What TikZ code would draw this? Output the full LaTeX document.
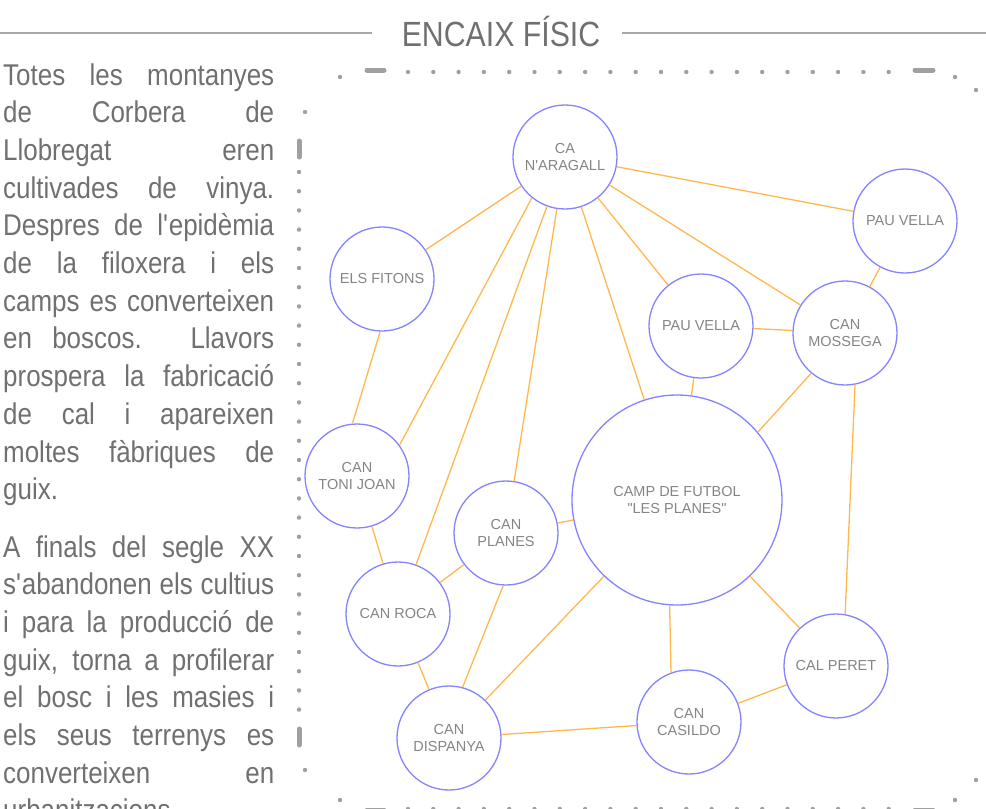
\documentclass[tikz,border=0pt]{standalone}
\usepackage{fontspec}
\setmainfont{Liberation Sans}[FakeStretch=0.865]
\newfontfamily\placefont{Liberation Sans}
\definecolor{bodyc}{HTML}{707070}
\definecolor{rulec}{HTML}{A8A8A8}
\definecolor{dotc}{HTML}{A0A0A0}
\definecolor{placec}{HTML}{8484FF}
\definecolor{linkc}{HTML}{FFB84D}
\definecolor{labelc}{HTML}{858585}
\newcommand\fullline[1]{\hbox to 271pt{\spaceskip=\fontdimen2\font plus 1fil\relax #1}}
\tikzset{
  place/.style={circle, draw=placec, line width=1.3, fill=white, minimum size=104,
    inner sep=0, align=center, text=labelc,
    font=\placefont\fontsize{14.5}{17.3}\selectfont},
  link/.style={draw=linkc, line width=1.3},
  bodyline/.style={anchor=base west, inner sep=0, text=bodyc,
    font=\fontsize{30}{37.7}\selectfont},
  dotmark/.style={fill=dotc},
  dashmark/.style={draw=dotc, line width=5, line cap=round}
}
\begin{document}
\begin{tikzpicture}[x=1pt, y=-1pt]
    \useasboundingbox (0,0) rectangle (986,809);
    % title
    \node[text=bodyc, font=\fontsize{35}{40}\selectfont, inner sep=0] (title) at (501,31) {ENCAIX FÍSIC};
    \draw[rulec, line width=2.2] (0,33) -- (372,33);
    \draw[rulec, line width=2.2] (622,33) -- (986,33);
    % left text
    \node[bodyline] (l1) at (3,85) {\fullline{Totes les montanyes}};
    \node[bodyline] (l2) at (3,122.7) {\fullline{de Corbera de}};
    \node[bodyline] (l3) at (3,160.4) {\fullline{Llobregat eren}};
    \node[bodyline] (l4) at (3,198.1) {\fullline{cultivades de vinya.}};
    \node[bodyline] (l5) at (3,235.8) {\fullline{Despres de l\textquotesingle epidèmia}};
    \node[bodyline] (l6) at (3,273.5) {\fullline{de la filoxera i els}};
    \node[bodyline] (l7) at (3,311.2) {\fullline{camps es converteixen}};
    \node[bodyline] (l8) at (3,348.9) {\fullline{en boscos. Llavors}};
    \node[bodyline] (l9) at (3,386.6) {\fullline{prospera la fabricació}};
    \node[bodyline] (l10) at (3,424.3) {\fullline{de cal i apareixen}};
    \node[bodyline] (l11) at (3,462) {\fullline{moltes fàbriques de}};
    \node[bodyline] (l12) at (3,499.7) {guix.};
    \node[bodyline] (l13) at (3,557) {\fullline{A finals del segle XX}};
    \node[bodyline] (l14) at (3,594.7) {\fullline{s\textquotesingle abandonen els cultius}};
    \node[bodyline] (l15) at (3,632.4) {\fullline{i para la producció de}};
    \node[bodyline] (l16) at (3,670.1) {\fullline{guix, torna a profilerar}};
    \node[bodyline] (l17) at (3,707.8) {\fullline{el bosc i les masies i}};
    \node[bodyline] (l18) at (3,745.5) {\fullline{els seus terrenys es}};
    \node[bodyline] (l19) at (3,783.2) {\fullline{converteixen en}};
    \node[bodyline] (l20) at (3,820.9) {urbanitzacions};
    % dotted frame
    \foreach \i in {0,...,19} {
        \fill[dotmark] ({408+25.3*\i},72) circle(2.2);
        \fill[dotmark] ({408+25.3*\i},809) circle(2.2);
    }
    \foreach \i in {0,...,28}
        \fill[dotmark] (299,{172+19.2*\i}) circle(2.2);
    \foreach \p in {(305,112),(340,77),(305,770),(340,800),(955,77),(976,90),(976,780),(955,800)}
        \fill[dotmark] \p circle(2.2);
    \draw[dashmark] (367,70) -- (384,70);
    \draw[dashmark] (915,70) -- (933,70);
    \draw[dashmark] (367,810) -- (384,810);
    \draw[dashmark] (915,810) -- (933,810);
    \draw[dashmark] (299,141) -- (299,157);
    \draw[dashmark] (299,729) -- (299,745);
    % places
    \node[place] (naragall) at (565,157) {CA\\N'ARAGALL};
    \node[place] (pauvellaA) at (905,221) {PAU VELLA};
    \node[place] (fitons) at (382,279) {ELS FITONS};
    \node[place] (pauvellaB) at (701,326) {PAU VELLA};
    \node[place] (mossega) at (845,333) {CAN\\MOSSEGA};
    \node[place] (tonijoan) at (357,476) {CAN\\TONI JOAN};
    \node[place, minimum size=210] (camp) at (677,500) {CAMP DE FUTBOL\\"LES PLANES"};
    \node[place] (planes) at (506,533) {CAN\\PLANES};
    \node[place] (roca) at (398,614) {CAN ROCA};
    \node[place] (dispanya) at (449,738) {CAN\\DISPANYA};
    \node[place] (casildo) at (689,722) {CAN\\CASILDO};
    \node[place] (peret) at (836,666) {CAL PERET};
    % links
    \foreach \t in {fitons,pauvellaA,mossega,pauvellaB,camp,planes,roca}
        \draw[link] (naragall) -- (\t);
    \draw[link] (naragall.231) -- (tonijoan.36);
    \draw[link] (fitons.268) -- (tonijoan.95);
    \draw[link] (pauvellaA) -- (mossega);
    \draw[link] (pauvellaB) -- (mossega);
    \draw[link] (pauvellaB) -- (camp);
    \draw[link] (mossega.230) -- (camp.40);
    \draw[link] (mossega.281) -- (peret.80);
    \draw[link] (tonijoan) -- (roca);
    \draw[link] (planes) -- (camp);
    \draw[link] (planes) -- (roca);
    \draw[link] (planes.267) -- (dispanya.75);
    \draw[link] (roca) -- (dispanya);
    \draw[link] (camp) -- (dispanya);
    \draw[link] (camp.266) -- (casildo.110);
    \draw[link] (camp) -- (peret);
    \draw[link] (dispanya) -- (casildo);
    \draw[link] (casildo) -- (peret);
\end{tikzpicture}
\end{document}
